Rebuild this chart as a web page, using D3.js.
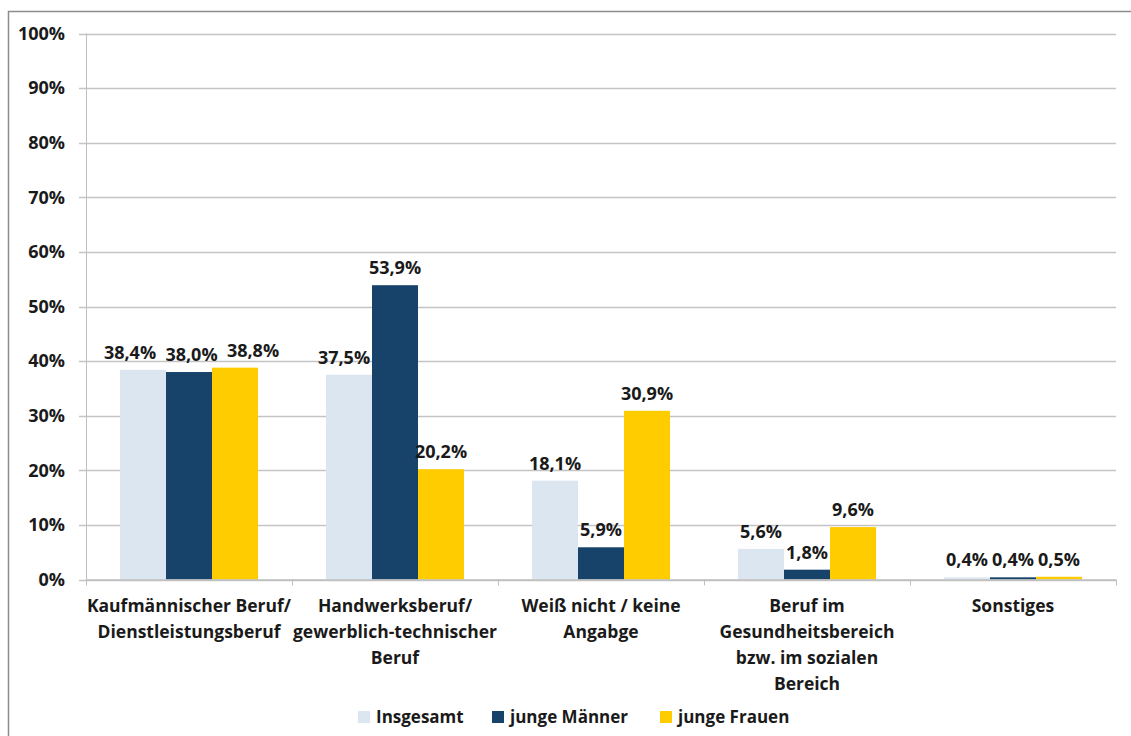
<!DOCTYPE html>
<html><head><meta charset="utf-8">
<script src="https://cdn.jsdelivr.net/npm/d3@7"></script>
<style>
html,body{margin:0;padding:0;background:#fff;}
text{font-family:"Open Sans",sans-serif;font-weight:700;fill:#1a1a1a;}
</style></head>
<body><svg id="c" width="1131" height="736"></svg>
<script>
const categories = [
  ["Kaufmännischer Beruf/", "Dienstleistungsberuf"],
  ["Handwerksberuf/", "gewerblich-technischer", "Beruf"],
  ["Weiß nicht / keine", "Angabge"],
  ["Beruf im", "Gesundheitsbereich", "bzw. im sozialen", "Bereich"],
  ["Sonstiges"]
];
const seriesNames = ["Insgesamt", "junge Männer", "junge Frauen"];
const insgesamt = [38.4, 37.5, 18.1, 5.6, 0.4];
const jungeMaenner = [38.0, 53.9, 5.9, 1.8, 0.4];
const jungeFrauen = [38.8, 20.2, 30.9, 9.6, 0.5];
const yTicks = [0,10,20,30,40,50,60,70,80,90,100];
const colors = ["#dce6f1", "#17436a", "#ffcc00"];

const seriesValues = [insgesamt, jungeMaenner, jungeFrauen];
const svg = d3.select("#c");
const pLeft = 86, pRight = 1116, pTop = 33.5, pBottom = 579.5;
// manual label nudges (layout only), keyed "category-series"
const labelNudge = {"0-0": -13, "0-1": 2.5, "0-2": 18, "1-0": -5};

// outer frame
svg.append("rect").attr("x", 8.5).attr("y", 11.5).attr("width", 1140).attr("height", 740)
  .attr("fill", "none").attr("stroke", "#8c8c8c").attr("stroke-width", 1.5);

const catIdx = d3.range(categories.length);
const x0 = d3.scaleBand().domain(catIdx).range([pLeft, pRight]).padding(0);
const bw = x0.bandwidth();
const x1 = d3.scaleBand().domain(d3.range(seriesNames.length)).range([bw*0.165, bw*0.835]).padding(0);
const y = d3.scaleLinear().domain([0, 100]).range([pBottom, pTop]);

// gridlines
svg.append("g").selectAll("line").data(yTicks).join("line")
  .attr("x1", pLeft - 7).attr("x2", pRight)
  .attr("y1", d => Math.round(y(d)) + 0.5).attr("y2", d => Math.round(y(d)) + 0.5)
  .attr("stroke", "#c4c4c4").attr("stroke-width", 1.5);

// y axis line
svg.append("line").attr("x1", pLeft + 0.5).attr("x2", pLeft + 0.5).attr("y1", pTop).attr("y2", pBottom)
  .attr("stroke", "#bfbfbf").attr("stroke-width", 1);

// y labels
svg.append("g").selectAll("text").data(yTicks).join("text")
  .attr("x", 65).attr("y", d => y(d)).attr("dy", "0.35em")
  .attr("text-anchor", "end").attr("font-size", 18).text(d => d + "%");

// bars
const groups = svg.append("g").selectAll("g").data(catIdx).join("g")
  .attr("transform", i => `translate(${x0(i)},0)`);
groups.selectAll("rect").data(i => seriesValues.map((s, k) => ({k, i, v: s[i]}))).join("rect")
  .attr("x", d => x1(d.k)).attr("width", x1.bandwidth())
  .attr("y", d => y(d.v)).attr("height", d => y(0) - y(d.v))
  .attr("fill", d => colors[d.k]);
groups.selectAll("text.val").data(i => seriesValues.map((s, k) => ({k, i, v: s[i]}))).join("text")
  .attr("class", "val")
  .attr("x", d => x1(d.k) + x1.bandwidth()/2 + (labelNudge[d.i + "-" + d.k] || 0))
  .attr("y", d => y(d.v) - 11)
  .attr("text-anchor", "middle").attr("font-size", 18)
  .text(d => d.v.toFixed(1).replace(".", ",") + "%");

// x axis line and ticks
svg.append("line").attr("x1", pLeft).attr("x2", pRight).attr("y1", pBottom + 0.5).attr("y2", pBottom + 0.5)
  .attr("stroke", "#bfbfbf").attr("stroke-width", 1.5);
svg.append("g").selectAll("line").data(d3.range(categories.length + 1)).join("line")
  .attr("x1", i => Math.round(pLeft + i*bw) + 0.5).attr("x2", i => Math.round(pLeft + i*bw) + 0.5)
  .attr("y1", pBottom).attr("y2", pBottom + 6).attr("stroke", "#bfbfbf");

// category labels
const cl = svg.append("g").selectAll("text").data(catIdx).join("text")
  .attr("text-anchor", "middle").attr("font-size", 17.5)
  .attr("x", i => x0(i) + bw/2).attr("y", 612);
cl.selectAll("tspan").data(i => categories[i].map((t, j) => ({t, j, i}))).join("tspan")
  .attr("x", d => x0(d.i) + bw/2).attr("y", d => 612 + d.j*26).text(d => d.t);

// legend
const legX = [358, 492, 660];
const lg = svg.append("g").selectAll("g").data(seriesNames).join("g")
  .attr("transform", (d, i) => `translate(${legX[i]},711)`);
lg.append("rect").attr("width", 12).attr("height", 12).attr("fill", (d, i) => colors[i]);
lg.append("text").attr("x", 18).attr("y", 6).attr("dy", "0.35em").attr("font-size", 17).text(d => d);
</script></body></html>
